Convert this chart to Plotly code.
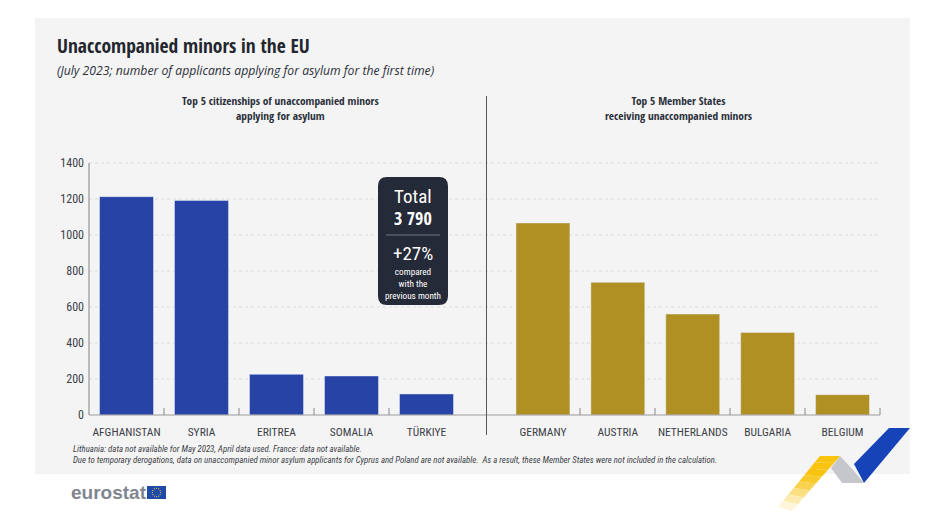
import math
import plotly.graph_objects as go
from plotly.subplots import make_subplots

W, H = 944, 529

citizenships = ['AFGHANISTAN', 'SYRIA', 'ERITREA', 'SOMALIA', 'TÜRKIYE']
citizenship_values = [1213, 1192, 226, 217, 117]
states = ['GERMANY', 'AUSTRIA', 'NETHERLANDS', 'BULGARIA', 'BELGIUM']
state_values = [1067, 737, 561, 459, 113]
y_ticks = [0, 200, 400, 600, 800, 1000, 1200, 1400]

NARROW = 'Roboto Condensed'
NARROW_BOLD = 'Open Sans Condensed'
DARK = '#2b2f3a'


# pixel helpers, the layout below is all in page pixels
def px_x(x):
    return x / W


def px_y(y):
    return 1 - y / H


fig = make_subplots(rows=1, cols=2, shared_yaxes=True)

fig.add_trace(go.Bar(x=citizenships, y=citizenship_values, marker_color='#2743a6', width=0.72), row=1, col=1)
fig.add_trace(go.Bar(x=states, y=state_values, marker_color='#b09023', width=0.72), row=1, col=2)

fig.update_xaxes(type='category', showline=False, ticks='', tickangle=0, ticklabelstandoff=8,
                 tickfont=dict(family=NARROW, size=11.5, color='#3c3f48'), showgrid=False, automargin=False)
fig.update_yaxes(range=[0, 1400], tickvals=y_ticks, tickfont=dict(family=NARROW, size=12, color='#3c3f48'),
                 showgrid=False, zeroline=False, ticks='', ticklabelstandoff=4, automargin=False)

fig.update_layout(
    width=W, height=H, autosize=False, margin=dict(l=0, r=0, t=0, b=0, pad=0),
    paper_bgcolor='white', plot_bgcolor='rgba(0,0,0,0)', showlegend=False,
    xaxis=dict(domain=[px_x(89), px_x(464)], anchor='y'),
    xaxis2=dict(domain=[px_x(505.5), px_x(880)], anchor='y2'),
    yaxis=dict(domain=[px_y(415), px_y(163)]),
    yaxis2=dict(domain=[px_y(415), px_y(163)], showticklabels=False),
)

shapes = []


def box(x0, y0, x1, y1, color, layer='below'):
    shapes.append(dict(type='rect', xref='paper', yref='paper', x0=px_x(x0), x1=px_x(x1), y0=px_y(y0), y1=px_y(y1),
                       fillcolor=color, line_width=0, layer=layer))


def poly(points, color, layer='above'):
    path = 'M ' + ' L '.join(f'{px_x(a):.5f},{px_y(b):.5f}' for a, b in points) + ' Z'
    shapes.append(dict(type='path', xref='paper', yref='paper', path=path, fillcolor=color, line_width=0, layer=layer))


def seg(x0, y0, x1, y1, color, width=1, dash='solid', layer='below'):
    shapes.append(dict(type='line', xref='paper', yref='paper', x0=px_x(x0), x1=px_x(x1), y0=px_y(y0), y1=px_y(y1),
                       line=dict(color=color, width=width, dash=dash), layer=layer))


# grey panel
box(35, 18, 910, 474, '#f4f4f4')

# dotted gridlines run across both halves
for t in y_ticks[1:]:
    seg(89, 415 - t * 252 / 1400, 880, 415 - t * 252 / 1400, '#dcdcdc', dash='dot')

# axis lines
seg(89, 415, 880, 415, '#9a9a9a', layer='above')
seg(89, 163, 89, 415, '#a8a8a8', width=1.5, layer='above')

# divider
seg(486.5, 96, 486.5, 435, '#55585f', layer='above')

# small ticks between categories
for i in range(1, 5):
    seg(89 + i * 75, 408, 89 + i * 75, 415, '#8a8a8a', layer='above')
for i in range(1, 6):
    seg(505 + i * 75, 408, 505 + i * 75, 415, '#8a8a8a', layer='above')

# callout box with rounded corners
bx0, by0, bx1, by1, r = 378, 177, 448, 305, 9
path = (f'M {px_x(bx0 + r)},{px_y(by0)} L {px_x(bx1 - r)},{px_y(by0)} Q {px_x(bx1)},{px_y(by0)} {px_x(bx1)},{px_y(by0 + r)} '
        f'L {px_x(bx1)},{px_y(by1 - r)} Q {px_x(bx1)},{px_y(by1)} {px_x(bx1 - r)},{px_y(by1)} '
        f'L {px_x(bx0 + r)},{px_y(by1)} Q {px_x(bx0)},{px_y(by1)} {px_x(bx0)},{px_y(by1 - r)} '
        f'L {px_x(bx0)},{px_y(by0 + r)} Q {px_x(bx0)},{px_y(by0)} {px_x(bx0 + r)},{px_y(by0)} Z')
shapes.append(dict(type='path', xref='paper', yref='paper', path=path, fillcolor='#252a38', line_width=0, layer='above'))
seg(386, 235, 440, 235, '#70747e', layer='above')

# flag with its ring of stars
box(147, 486, 166, 499, '#1f4aa8', layer='above')
for i in range(12):
    a = i * math.pi / 6
    sx, sy = 156.5 + 4.2 * math.cos(a), 492.5 + 4.2 * math.sin(a)
    box(sx - 0.5, sy - 0.5, sx + 0.5, sy + 0.5, '#f3d34a', layer='above')

# ribbon
poly([(889, 428), (910, 428), (864, 483), (854, 464)], '#1644b8')
poly([(840, 456), (854, 471), (864, 483), (842, 483), (831, 468)], '#c6c7cb')
# yellow band fades out towards the bottom, drawn from the pale end so the slices overlap
yellow_steps = ['#f8c40f', '#f8c40f', '#f8c40f', '#f9ca2b', '#f9d34f', '#fbdf80', '#fcebb0', '#fdf5d8']
for i, c in reversed(list(enumerate(yellow_steps))):
    t0, t1 = i / len(yellow_steps), (i + 1) / len(yellow_steps)
    poly([(820 - 42 * t0, 456 + 51 * t0), (840 - 48 * t0, 456 + 55 * t0),
          (840 - 48 * t1, 456 + 55 * t1), (820 - 42 * t1, 456 + 51 * t1)], c)

fig.update_layout(shapes=shapes)


def label(x, y, text, size, color=DARK, family=NARROW, anchor='left'):
    fig.add_annotation(xref='paper', yref='paper', x=px_x(x), y=px_y(y), text=text, showarrow=False, xanchor=anchor,
                       yanchor='middle', align=anchor, font=dict(family=family, size=size, color=color))


label(55, 45, 'Unaccompanied minors in the EU', 19.5, color='#23262e', family=NARROW_BOLD)
label(55, 71, '<i>(July 2023; number of applicants applying for asylum for the first time)</i>', 12.2, family='Open Sans')
label(280, 108, 'Top 5 citizenships of unaccompanied minors<br>applying for asylum', 11.4, anchor='center', family=NARROW_BOLD)
label(678, 108, 'Top 5 Member States<br>receiving unaccompanied minors', 11.4, anchor='center', family=NARROW_BOLD)

label(413, 196, 'Total', 19, color='white', anchor='center')
label(413, 218, '3 790', 18, color='white', anchor='center', family=NARROW_BOLD)
label(413, 254, '+27%', 19, color='white', anchor='center')
label(413, 283, 'compared<br>with the<br>previous month', 9.2, color='white', anchor='center')

label(71, 449, '<i>Lithuania: data not available for May 2023, April data used. France: data not available.</i>', 8.8, color='#3c3f48')
label(71, 460, '<i>Due to temporary derogations, data on unaccompanied minor asylum applicants for Cyprus and Poland are not available.  As a result, these Member States were not included in the calculation.</i>', 8.8, color='#3c3f48')

label(69, 492, '<b>eurostat</b>', 19, color='#7f8590', family='Liberation Sans')

fig.write_html("out.html", config={'displayModeBar': False}, post_script="document.body.style.margin='0';")
